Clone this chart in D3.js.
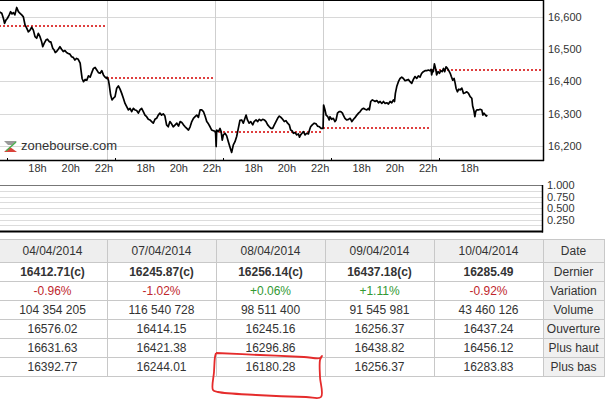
<!DOCTYPE html>
<html>
<head>
<meta charset="utf-8">
<script src="https://cdn.jsdelivr.net/npm/d3@7"></script>
<style>
body { margin: 0; background: #fff; }
svg { display: block; font-family: "Liberation Sans", Arial, sans-serif; }
</style>
</head>
<body>
<svg></svg>
<script>
// intraday prices, [minutes since 15:30, price]
var day0404 = [[1,16615],[10,16610],[16,16594],[20,16579],[25,16589],[30,16594],[37,16605],[42,16615],[47,16608],[52,16612],[57,16605],[64,16628],[70,16615],[76,16610],[82,16605],[88,16599],[94,16574],[100,16564],[106,16553],[112,16558],[118,16567],[124,16558],[130,16538],[136,16533],[142,16548],[148,16538],[154,16522],[158,16507],[163,16517],[170,16528],[175,16530],[182,16522],[187,16522],[194,16502],[199,16497],[203,16489],[208,16492],[214,16499],[220,16507],[226,16499],[232,16492],[238,16495],[244,16489],[250,16486],[256,16484],[262,16476],[268,16474],[274,16466],[280,16471],[286,16468],[293,16456],[296,16435],[300,16409],[305,16399],[311,16406],[317,16404],[323,16417],[329,16413],[335,16427],[341,16440],[347,16443],[353,16435],[359,16427],[365,16425],[371,16433],[377,16420],[383,16413],[389,16409],[390,16413]];
var day0704 = [[0,16413],[5,16404],[8,16389],[13,16358],[18,16343],[23,16348],[29,16353],[35,16379],[41,16386],[47,16376],[53,16363],[59,16348],[65,16332],[71,16322],[77,16312],[83,16317],[89,16307],[95,16317],[101,16312],[107,16310],[113,16302],[119,16312],[125,16317],[131,16307],[137,16296],[143,16291],[149,16283],[155,16281],[161,16276],[167,16271],[173,16283],[179,16286],[185,16296],[191,16302],[197,16296],[203,16300],[209,16293],[215,16266],[221,16260],[227,16276],[233,16269],[239,16260],[246,16266],[252,16271],[258,16262],[264,16276],[270,16273],[276,16266],[282,16260],[288,16255],[294,16250],[300,16260],[306,16276],[312,16286],[318,16291],[324,16296],[330,16289],[336,16312],[342,16312],[348,16307],[354,16293],[360,16276],[366,16269],[372,16260],[378,16250],[384,16248],[390,16246]];
var day0804 = [[0,16245],[2,16240],[4,16199],[6,16250],[12,16245],[18,16255],[22,16245],[26,16219],[30,16235],[36,16240],[42,16232],[48,16214],[54,16197],[60,16181],[66,16204],[72,16214],[78,16230],[84,16255],[90,16280],[96,16281],[102,16271],[108,16286],[112,16296],[117,16281],[123,16271],[129,16276],[136,16266],[141,16276],[148,16281],[154,16276],[160,16283],[166,16279],[172,16283],[178,16281],[184,16276],[190,16266],[196,16260],[202,16255],[208,16255],[214,16266],[220,16276],[226,16286],[232,16293],[238,16289],[244,16283],[250,16276],[256,16279],[262,16271],[268,16266],[273,16250],[278,16248],[283,16240],[289,16242],[295,16235],[301,16238],[305,16228],[309,16235],[314,16240],[319,16245],[325,16235],[331,16240],[337,16238],[341,16250],[345,16260],[351,16266],[358,16271],[365,16269],[370,16262],[377,16260],[383,16255],[389,16255],[390,16256]];
var day0904 = [[0,16256],[2,16327],[7,16312],[11,16296],[17,16291],[22,16281],[25,16291],[31,16283],[37,16286],[43,16276],[47,16281],[52,16302],[58,16307],[64,16307],[70,16302],[73,16296],[79,16286],[85,16281],[92,16283],[98,16286],[104,16276],[110,16283],[116,16289],[122,16296],[128,16302],[134,16307],[140,16314],[146,16317],[152,16314],[158,16312],[164,16317],[167,16312],[172,16338],[178,16343],[188,16338],[194,16341],[200,16334],[206,16338],[212,16332],[218,16338],[224,16332],[230,16334],[236,16330],[242,16338],[248,16334],[254,16343],[258,16338],[261,16363],[266,16384],[272,16399],[278,16409],[284,16413],[290,16409],[296,16402],[302,16404],[308,16406],[314,16399],[320,16394],[326,16406],[332,16415],[338,16409],[344,16417],[350,16413],[356,16425],[362,16430],[368,16433],[374,16433],[380,16435],[386,16433],[390,16437]];
var day1004 = [[0,16437],[2,16420],[6,16435],[8,16430],[12,16454],[17,16437],[20,16420],[25,16430],[30,16425],[35,16433],[40,16430],[45,16440],[49,16430],[54,16445],[59,16440],[64,16433],[69,16425],[73,16415],[78,16404],[83,16409],[87,16394],[90,16379],[95,16368],[100,16376],[105,16374],[111,16379],[117,16363],[123,16365],[129,16368],[135,16363],[141,16353],[147,16348],[150,16324],[154,16312],[158,16291],[161,16307],[165,16312],[171,16312],[177,16314],[183,16312],[187,16296],[191,16302],[199,16293],[203,16296]];

var prevClose = [16572.55, 16412.71, 16245.87, 16256.14, 16437.18];
var priceTicks = [16200, 16300, 16400, 16500, 16600];
var hourLabels = ["18h", "20h", "22h"];
var hourMinutes = [150, 270, 390];
var oscTicks = [1, 0.75, 0.5, 0.25];

// table
var tableDates = ["04/04/2014", "07/04/2014", "08/04/2014", "09/04/2014", "10/04/2014"];
var rowLabels = ["Dernier", "Variation", "Volume", "Ouverture", "Plus haut", "Plus bas"];
var dernier = ["16412.71(c)", "16245.87(c)", "16256.14(c)", "16437.18(c)", "16285.49"];
var variation = ["-0.96%", "-1.02%", "+0.06%", "+1.11%", "-0.92%"];
var volume = ["104 354 205", "116 540 728", "98 511 400", "91 545 981", "43 460 126"];
var ouverture = ["16576.02", "16414.15", "16245.16", "16256.37", "16437.24"];
var plusHaut = ["16631.63", "16421.38", "16296.86", "16438.82", "16456.12"];
var plusBas = ["16392.77", "16244.01", "16180.28", "16256.37", "16283.83"];

var width = 608;
var height = 399;
var dayLen = 390;
var right = 543;
var svg = d3.select("svg").attr("width", width).attr("height", height);

var sessions = [day0404, day0704, day0804, day0904, day1004];
var points = sessions.flatMap((s, i) => s.map(d => ({ t: i * dayLen + d[0], v: d[1] })));
var lastT = points[points.length - 1].t;

var xScale = d3.scaleLinear().domain([0, 1964]).range([-1, right]);
var yScale = d3.scaleLinear().domain([16156, 16651]).range([160.5, 0]);

// grid
svg.append("g")
    .selectAll("line")
    .data(priceTicks)
    .enter()
    .append("line")
    .attr("x1", 0)
    .attr("x2", right)
    .attr("y1", d => Math.round(yScale(d)) + 0.5)
    .attr("y2", d => Math.round(yScale(d)) + 0.5)
    .attr("stroke", "#d8d8d8");
svg.append("g")
    .selectAll("line")
    .data([1, 2, 3, 4])
    .enter()
    .append("line")
    .attr("x1", d => Math.round(xScale(d * dayLen)) + 0.5)
    .attr("x2", d => Math.round(xScale(d * dayLen)) + 0.5)
    .attr("y1", 0)
    .attr("y2", 160)
    .attr("stroke", "#cfcfcf");

// previous close
svg.append("g")
    .selectAll("line")
    .data(prevClose)
    .enter()
    .append("line")
    .attr("x1", (d, i) => Math.round(xScale(i * dayLen)))
    .attr("x2", (d, i) => i == 4 ? right : Math.round(xScale((i + 1) * dayLen)))
    .attr("y1", d => 2 * Math.round(yScale(d) / 2))
    .attr("y2", d => 2 * Math.round(yScale(d) / 2))
    .attr("stroke", "#d40000")
    .attr("stroke-width", 1.6)
    .attr("stroke-dasharray", "2,2");

// logo
var logo = svg.append("g");
logo.append("polygon").attr("points", "4,141 17,141 12,145 8,145").attr("fill", "#9a9a9a");
logo.append("polygon").attr("points", "4,152 17,152 10,147").attr("fill", "#d9423a");
logo.append("line").attr("x1", 16).attr("y1", 142).attr("x2", 6).attr("y2", 151)
    .attr("stroke", "#4caf50").attr("stroke-width", 1.5);
logo.append("text")
    .attr("x", 21)
    .attr("y", 149.5)
    .attr("font-size", "13px")
    .attr("fill", "#333")
    .text("zonebourse.com");

// price line
svg.append("path")
    .datum(points)
    .attr("fill", "none")
    .attr("stroke", "#000")
    .attr("stroke-width", 1.7)
    .attr("stroke-linejoin", "round")
    .attr("d", d3.line().x(d => xScale(d.t)).y(d => yScale(d.v)));

// frame
svg.append("line").attr("x1", 0).attr("x2", right + 1).attr("y1", 0.5).attr("y2", 0.5).attr("stroke", "#000");
svg.append("line").attr("x1", right + 0.5).attr("x2", right + 0.5).attr("y1", 0).attr("y2", 161).attr("stroke", "#000").attr("stroke-width", 1.5);
svg.append("line").attr("x1", 0).attr("x2", right + 1).attr("y1", 160.5).attr("y2", 160.5).attr("stroke", "#000").attr("stroke-width", 1.5);

// right axis
var yAxis = d3.axisRight(yScale)
    .tickValues(priceTicks)
    .tickSize(0)
    .tickPadding(5)
    .tickFormat(d3.format(","));
var yg = svg.append("g")
    .attr("transform", "translate(" + right + ",0)")
    .call(yAxis);
yg.select(".domain").remove();
yg.selectAll("text").attr("font-size", "11px").attr("fill", "#333").attr("font-family", "inherit");

// time axis
var hourTicks = [];
sessions.forEach((s, i) => {
    hourMinutes.forEach((m, j) => {
        if (i * dayLen + m <= lastT) hourTicks.push({ t: i * dayLen + m, label: hourLabels[j] });
    });
});
svg.append("g")
    .selectAll("text")
    .data(hourTicks)
    .enter()
    .append("text")
    .attr("x", d => xScale(d.t) - 3)
    .attr("y", 171.5)
    .attr("text-anchor", "middle")
    .attr("font-size", "11px")
    .attr("fill", "#333")
    .text(d => d.label);
svg.append("g")
    .selectAll("line")
    .data(sessions.map((s, i) => i * dayLen + 30))
    .enter()
    .append("line")
    .attr("x1", d => Math.round(xScale(d)) + 0.5)
    .attr("x2", d => Math.round(xScale(d)) + 0.5)
    .attr("y1", 158)
    .attr("y2", 160)
    .attr("stroke", "#000");

// lower panel
var oscScale = d3.scaleLinear().domain([0, 1]).range([231, 185]);
svg.append("g")
    .selectAll("line")
    .data(d3.range(1, 8).map(d => d / 8))
    .enter()
    .append("line")
    .attr("x1", 0)
    .attr("x2", right)
    .attr("y1", d => Math.round(oscScale(d)) + 0.5)
    .attr("y2", d => Math.round(oscScale(d)) + 0.5)
    .attr("stroke", "#dcdcdc");
svg.append("line").attr("x1", 0).attr("x2", right).attr("y1", 185.5).attr("y2", 185.5).attr("stroke", "#777");
svg.append("line").attr("x1", right - 0.5).attr("x2", right - 0.5).attr("y1", 185).attr("y2", 232.5).attr("stroke", "#000").attr("stroke-width", 1.5);
svg.append("line").attr("x1", 0).attr("x2", right).attr("y1", 231.5).attr("y2", 231.5).attr("stroke", "#000").attr("stroke-width", 2);
svg.append("g")
    .selectAll("text")
    .data(oscTicks)
    .enter()
    .append("text")
    .attr("x", 547)
    .attr("y", d => oscScale(d) + 4)
    .attr("font-size", "11px")
    .attr("fill", "#333")
    .text(d => d3.format(".3f")(d));

// table
var colBand = d3.scaleBand().domain(tableDates).range([-2, right]);
var rowBand = d3.scaleBand().domain(rowLabels).range([262, 376]);
var rowValues = [dernier, variation, volume, ouverture, plusHaut, plusBas];
var labelW = 604 - right;
var headTop = 239;

var table = svg.append("g").attr("transform", "translate(0.5,0.5)");
table.selectAll(".head")
    .data(tableDates.concat(["Date"]))
    .enter()
    .append("rect")
    .attr("x", (d, i) => i < 5 ? colBand(d) : right)
    .attr("y", headTop)
    .attr("width", (d, i) => i < 5 ? colBand.bandwidth() : labelW)
    .attr("height", rowBand.range()[0] - headTop)
    .attr("fill", "#eeeeee")
    .attr("stroke", "#c8c8c8");
rowLabels.forEach((r, ri) => {
    table.selectAll(".r" + ri)
        .data(rowValues[ri])
        .enter()
        .append("rect")
        .attr("x", (d, i) => colBand(tableDates[i]))
        .attr("y", rowBand(r))
        .attr("width", colBand.bandwidth())
        .attr("height", rowBand.bandwidth())
        .attr("fill", "#fff")
        .attr("stroke", "#c8c8c8");
    table.append("rect")
        .attr("x", right)
        .attr("y", rowBand(r))
        .attr("width", labelW)
        .attr("height", rowBand.bandwidth())
        .attr("fill", "#f0f0f0")
        .attr("stroke", "#c8c8c8");
});

var txt = svg.append("g")
    .attr("font-size", "12px")
    .attr("text-anchor", "middle")
    .attr("fill", "#333");
txt.selectAll(".hd")
    .data(tableDates.concat(["Date"]))
    .enter()
    .append("text")
    .attr("x", (d, i) => i < 5 ? colBand(d) + colBand.bandwidth() / 2 : right + labelW / 2)
    .attr("y", (headTop + rowBand.range()[0]) / 2 + 4.5)
    .text(d => d);
rowLabels.forEach((r, ri) => {
    txt.selectAll(".t" + ri)
        .data(rowValues[ri])
        .enter()
        .append("text")
        .attr("x", (d, i) => colBand(tableDates[i]) + colBand.bandwidth() / 2)
        .attr("y", rowBand(r) + rowBand.bandwidth() / 2 + 4.5)
        .attr("font-weight", ri == 0 ? "bold" : null)
        .attr("fill", d => ri != 1 ? "#333" : (d[0] == "-" ? "#c0272d" : "#339933"))
        .text(d => d);
    txt.append("text")
        .attr("x", right + labelW / 2)
        .attr("y", rowBand(r) + rowBand.bandwidth() / 2 + 4.5)
        .text(r);
});

// hand-drawn red mark around the low of 08/04
var cx0 = colBand("08/04/2014");
var cy0 = rowBand("Plus bas");
var scribble = [[0,-4],[44,-2],[88,0],[104,1],[106,-1],[104,3],[104,20],[105,40],[90,40],[40,38],[2,35],[-3,33],[-2,15],[-1,0],[0,-4]];
svg.append("path")
    .datum(scribble)
    .attr("fill", "none")
    .attr("stroke", "#e52b2b")
    .attr("stroke-width", 1.8)
    .attr("d", d3.line().x(d => cx0 + d[0]).y(d => cy0 + d[1]).curve(d3.curveCatmullRom));
</script>
</body>
</html>
